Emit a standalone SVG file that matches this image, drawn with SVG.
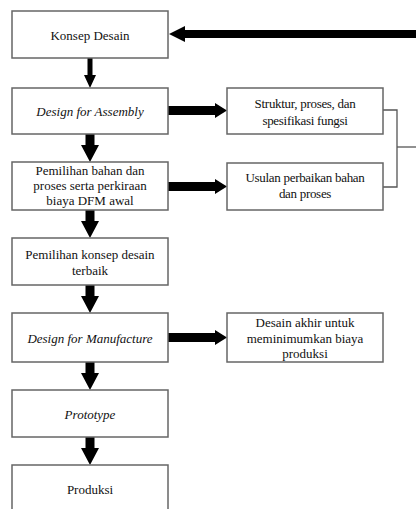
<svg xmlns="http://www.w3.org/2000/svg" width="416" height="509" viewBox="0 0 416 509">
<style>
.box{fill:#fff;stroke:#666;stroke-width:1.5}
.t{font-family:"Liberation Serif","Times New Roman",serif;font-size:13px;fill:#111;text-anchor:middle;dominant-baseline:central}
.s{letter-spacing:-0.3px}
.i{font-style:italic}
.arr{fill:#000}
.ln{fill:none;stroke:#555;stroke-width:1.3}
</style>
<rect width="416" height="509" fill="#fff"/>
<g id="connectors">
<polygon class="arr" points="416,30 185,30 185,26 169,34 185,42 185,38 416,38"/>
<polygon class="arr" points="87.5,58 92.5,58 92.5,75 96,75 90,88 84,75 87.5,75"/>
<polygon class="arr" points="85.5,134 94.5,134 94.5,145 99,145 90,162 81,145 85.5,145"/>
<polygon class="arr" points="85.5,210 94.5,210 94.5,221 99,221 90,238 81,221 85.5,221"/>
<polygon class="arr" points="85.5,285 94.5,285 94.5,296 99,296 90,313 81,296 85.5,296"/>
<polygon class="arr" points="85.5,362 94.5,362 94.5,373 99,373 90,390 81,373 85.5,373"/>
<polygon class="arr" points="85.5,437 94.5,437 94.5,448 99,448 90,465 81,448 85.5,448"/>
<polygon class="arr" points="168,106 215,106 215,103 227,110.5 215,118 215,115 168,115"/>
<polygon class="arr" points="168,182 215,182 215,179 227,186.5 215,194 215,191 168,191"/>
<polygon class="arr" points="168,333 215,333 215,330 227,337.5 215,345 215,342 168,342"/>
<polyline class="ln" points="383,110 397,110 397,187 383,187"/>
<line class="ln" x1="397" y1="147" x2="416" y2="147"/>
</g>
<g id="n1"><rect class="box" x="12" y="11" width="156" height="47"/><text class="t" x="90" y="35">Konsep Desain</text></g>
<g id="n2"><rect class="box" x="12" y="88" width="156" height="46"/><text class="t i" x="90" y="111">Design for Assembly</text></g>
<g id="n3"><rect class="box" x="12" y="162" width="156" height="48"/><text class="t" x="90" y="170">Pemilihan bahan dan</text><text class="t" x="90" y="185">proses serta perkiraan</text><text class="t" x="90" y="200">biaya DFM awal</text></g>
<g id="n4"><rect class="box" x="12" y="238" width="156" height="47"/><text class="t" x="90" y="254">Pemilihan konsep desain</text><text class="t" x="90" y="270">terbaik</text></g>
<g id="n5"><rect class="box" x="12" y="313" width="156" height="49"/><text class="t i" x="90" y="338">Design for Manufacture</text></g>
<g id="n6"><rect class="box" x="12" y="390" width="156" height="47"/><text class="t i" x="90" y="414">Prototype</text></g>
<g id="n7"><rect class="box" x="12" y="465" width="156" height="50"/><text class="t" x="90" y="489">Produksi</text></g>
<g id="r1"><rect class="box" x="227" y="88" width="156" height="46"/><text class="t s" x="305" y="103">Struktur, proses, dan</text><text class="t s" x="305" y="120">spesifikasi fungsi</text></g>
<g id="r2"><rect class="box" x="227" y="163" width="156" height="47"/><text class="t s" x="305" y="177">Usulan perbaikan bahan</text><text class="t s" x="305" y="193">dan proses</text></g>
<g id="r3"><rect class="box" x="227" y="313" width="156" height="49"/><text class="t" x="305" y="322">Desain akhir untuk</text><text class="t" x="305" y="338">meminimumkan biaya</text><text class="t" x="305" y="353">produksi</text></g>
</svg>
